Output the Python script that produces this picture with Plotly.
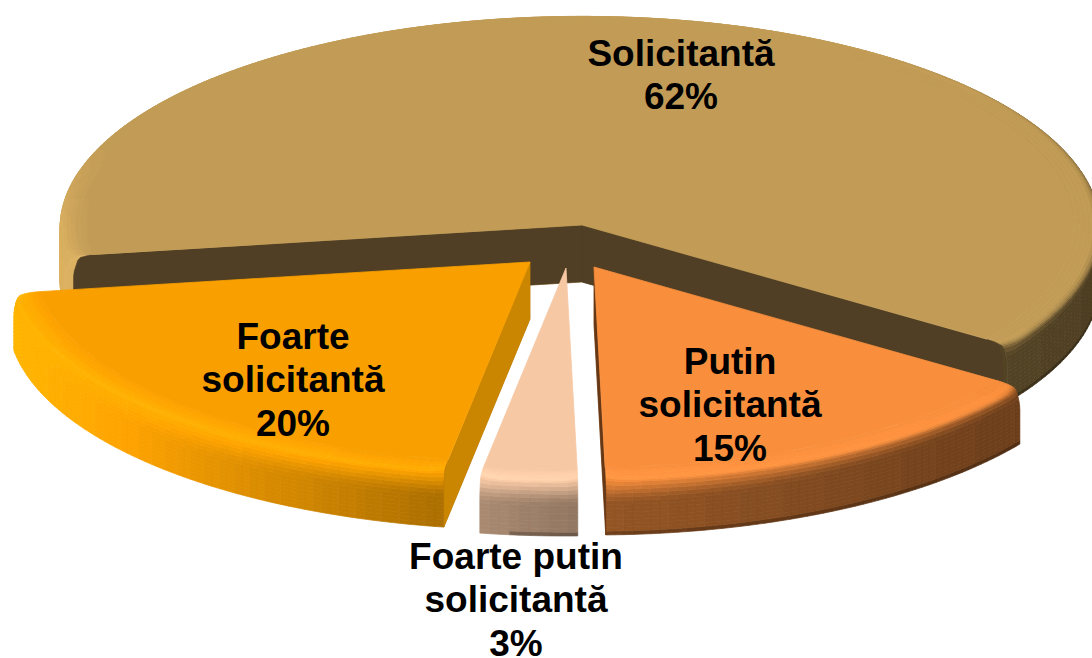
import math
import plotly.graph_objects as go

# ---- data ----
labels = ["Solicitantă", "Putin<br>solicitantă", "Foarte putin<br>solicitantă", "Foarte<br>solicitantă"]
values = [62, 15, 3, 20]

# ---- styling ----
base_colors = ["#C29C56", "#F98F3D", "#F6C8A4", "#F9A000"]
wall_colors = ["#503F24", "#663816", "#A0826E", "#CA8600"]
START = 171.5
APEX = [(582, 225), (594, 267), (566, 268), (530, 262)]
LABEL_POS = [(681, 78), (730, 408), (516, 603), (293, 383)]
LINE_STEP = 43.5
DRAW_ORDER = [0, 3, 2, 1]
RX_L, RX_R, RY, DEPTH, R_IN = 522, 518, 211, 57, 0.95
DTH, NU = 1.0, 22


def hex2rgb(h):
    return [int(h[i:i + 2], 16) for i in (1, 3, 5)]


def shade(h, s):
    r = [min(255, max(0, round(c * s))) for c in hex2rgb(h)]
    return f"rgb({r[0]},{r[1]},{r[2]})"


def pt(apex, th, r, z=0.0):
    a = math.radians(th)
    c, sn = math.cos(a), math.sin(a)
    rx = RX_R if c > 0 else RX_L
    return apex[0] + r * rx * c, apex[1] + r * RY * sn + z


def rim_uv(th, u, a0, a1):
    d = min(th - a0, a1 - th)
    q = 1 - min(max(d, 0), 3.0) / 3.0
    k_end = 0.35 + 0.25 * q * q
    k = min(1.0, u / k_end)
    r = R_IN + (1 - R_IN) * math.sin(k * math.pi / 2)
    z = DEPTH * (0.05 * (u / 0.35) ** 2 if u <= 0.35 else 0.05 + 0.95 * (u - 0.35) / 0.65)
    return r, z


def rim_s(th, u):
    a = math.radians(th)
    c, sn = math.cos(a), math.sin(a)
    fend = 0.6 - 0.2 * c if c >= 0 else 0.6 - 0.54 * c
    mid = 1 + 0.06 * (1 - c)
    up = max(0.0, -sn)
    w = min(1.0, up * 2.5) if c < 0 else up * up
    fend = 1 + (fend - 1) * (1 - w)
    mid = 1 + (mid - 1) * (1 - w)
    right = max(0.0, c)
    u1 = 0.25 - 0.1 * right
    u2 = 0.65 - 0.22 * right
    if u < u1:
        s = 1 + (mid - 1) * u / u1
    elif u < u2:
        t = (u - u1) / (u2 - u1)
        t = t * t * (3 - 2 * t)
        s = mid + (fend - mid) * t
    else:
        s = fend
    if u > 0.96 and c > -0.1 and sn > 0:
        s *= 0.75
    return 1 + round((s - 1) / 0.015) * 0.015


def poly_trace(xs, ys, color, lw=1.0):
    return go.Scatter(x=xs, y=ys, mode="lines", fill="toself", fillcolor=color,
                      line=dict(color=color, width=lw), hoverinfo="skip", showlegend=False)


total = sum(values)
bounds = []
acc = START
for v in values:
    bounds.append((acc, acc + 360.0 * v / total))
    acc += 360.0 * v / total

fig = go.Figure()

for i in DRAW_ORDER:
    a0, a1 = bounds[i]
    apex = APEX[i]
    base = base_colors[i]
    wall = wall_colors[i]
    n = max(4, int((a1 - a0) / DTH))
    ths = [a0 + (a1 - a0) * k / n for k in range(n + 1)]

    # rim, outermost strip first
    for j in range(NU - 1, -1, -1):
        u0, u1 = j / NU, (j + 1) / NU
        groups = {}
        for k in range(n):
            t0, t1 = ths[k], ths[k + 1]
            col = shade(base, rim_s((t0 + t1) / 2, (u0 + u1) / 2))
            P = [pt(apex, t0, *rim_uv(t0, u0, a0, a1)),
                 pt(apex, t1, *rim_uv(t1, u0, a0, a1)),
                 pt(apex, t1, *rim_uv(t1, u1, a0, a1)),
                 pt(apex, t0, *rim_uv(t0, u1, a0, a1))]
            gx, gy = groups.setdefault(col, ([], []))
            gx += [p[0] for p in P] + [P[0][0], None]
            gy += [p[1] for p in P] + [P[0][1], None]
        for col, (gx, gy) in groups.items():
            fig.add_trace(poly_trace(gx, gy, col, 0.7))

    # radial walls that face the viewer, each on a backing in the rim's colour
    for th, edge in ((a0, "start"), (a1, "end")):
        c = math.cos(math.radians(th))
        if (edge == "start" and c < 0) or (edge == "end" and c > 0):
            for scale, col in ((1.0, shade(base, rim_s(th, 0.7))),
                               (1 - 0.015 * abs(c), wall)):
                xs, ys = [apex[0]], [apex[1]]
                for m in range(17):
                    r, z = rim_uv(th, m / 16, a0, a1)
                    p = pt(apex, th, r * scale, z)
                    xs.append(p[0])
                    ys.append(p[1])
                xs += [apex[0], apex[0]]
                ys += [apex[1] + DEPTH, apex[1]]
                fig.add_trace(poly_trace(xs, ys, col, 0.5))

    # flat top
    pts = [apex] + [pt(apex, t, R_IN) for t in ths] + [apex]
    fig.add_trace(poly_trace([p[0] for p in pts], [p[1] for p in pts], base, 0.8))

# labels, one text per line so the line step can be set
tx, ty, tt = [], [], []
for (x, y), l, v in zip(LABEL_POS, labels, values):
    lines = l.split("<br>") + [f"{v}%"]
    for m, s in enumerate(lines):
        tx.append(x)
        ty.append(y + (m - (len(lines) - 1) / 2) * LINE_STEP)
        tt.append(f"<b>{s}</b>")
fig.add_trace(go.Scatter(
    x=tx, y=ty, mode="text", text=tt, textposition="middle center",
    textfont=dict(family="Liberation Sans", size=37, color="black"),
    hoverinfo="skip", showlegend=False, cliponaxis=False))

fig.update_layout(
    width=1092, height=658, margin=dict(l=0, r=0, t=0, b=0),
    paper_bgcolor="white", plot_bgcolor="white", showlegend=False,
    xaxis=dict(range=[0, 1092], visible=False, fixedrange=True),
    yaxis=dict(range=[658, 0], visible=False, fixedrange=True),
)
fig.write_html("out.html", config={"displayModeBar": False},
               post_script="document.body.style.margin='0';document.body.style.overflow='hidden';")
